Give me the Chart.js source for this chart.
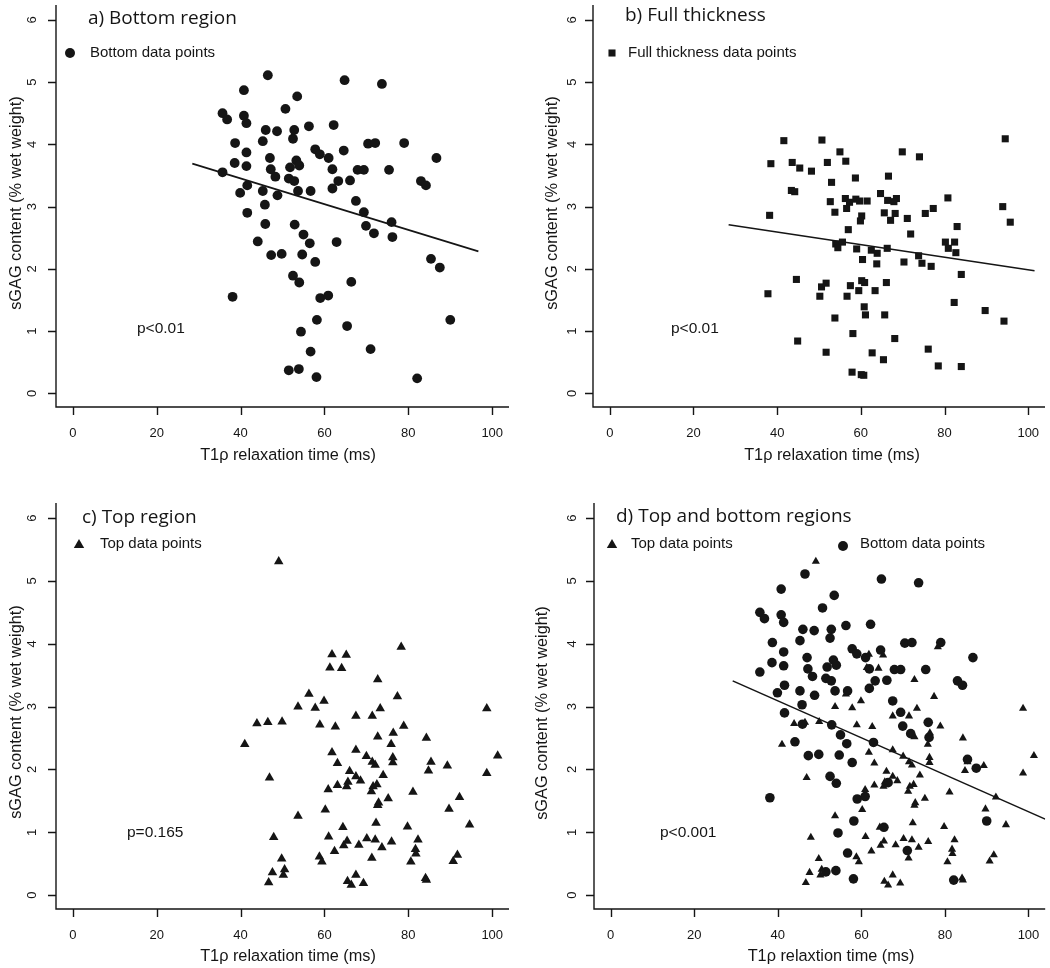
<!DOCTYPE html>
<html>
<head>
<meta charset="utf-8">
<script src="https://cdn.jsdelivr.net/npm/chart.js@4.4.1/dist/chart.umd.min.js"></script>
<style>
  html, body { margin: 0; padding: 0; background: #fff; }
  #wrap { position: relative; width: 1050px; height: 968px; overflow: hidden; }
  .panel { position: absolute; width: 525px; height: 484px; }
</style>
</head>
<body>
<div id="wrap">
  <div class="panel" style="left:0;top:0"><canvas id="chart-a" width="525" height="484"></canvas></div>
  <div class="panel" style="left:525px;top:0"><canvas id="chart-b" width="525" height="484"></canvas></div>
  <div class="panel" style="left:0;top:484px"><canvas id="chart-c" width="525" height="484"></canvas></div>
  <div class="panel" style="left:525px;top:484px"><canvas id="chart-d" width="525" height="484"></canvas></div>
</div>
<script>
// tick labels
const xTicks = [0, 20, 40, 60, 80, 100];
const yTicks = [0, 1, 2, 3, 4, 5, 6];

// bottom region (circles)
const bottomX = [46.5, 64.8, 73.7, 40.8, 53.5, 50.7, 35.7, 36.8, 40.8, 41.4, 62.2, 56.3, 46.0, 48.7, 52.8, 52.5, 45.3, 38.7, 70.4, 72.1,
  79.0, 57.8, 64.6, 58.9, 41.4, 61.0, 47.0, 86.7, 38.6, 53.3, 54.0, 41.4, 51.8, 47.2, 61.9, 67.9, 69.4, 75.4, 35.7, 48.3,
  51.5, 52.8, 63.3, 66.1, 83.0, 84.2, 41.6, 61.9, 39.9, 45.3, 53.7, 56.7, 48.8, 67.5, 45.8, 69.4, 41.6, 45.9, 52.9, 69.9,
  76.0, 55.0, 71.8, 76.2, 56.5, 44.1, 62.9, 49.8, 47.3, 54.7, 57.8, 85.4, 87.5, 52.5, 54.0, 66.4, 38.1, 59.0, 60.9, 58.2,
  65.4, 90.0, 54.4, 56.7, 71.0, 51.5, 53.9, 58.1, 82.1];
const bottomY = [5.11, 5.03, 4.97, 4.87, 4.77, 4.57, 4.50, 4.40, 4.46, 4.34, 4.31, 4.29, 4.23, 4.21, 4.23, 4.09, 4.05, 4.02, 4.01, 4.02,
  4.02, 3.92, 3.90, 3.84, 3.87, 3.78, 3.78, 3.78, 3.70, 3.74, 3.66, 3.65, 3.63, 3.60, 3.60, 3.59, 3.59, 3.59, 3.55, 3.48,
  3.45, 3.41, 3.41, 3.42, 3.41, 3.34, 3.34, 3.29, 3.22, 3.25, 3.25, 3.25, 3.18, 3.09, 3.03, 2.91, 2.90, 2.72, 2.71, 2.69,
  2.75, 2.55, 2.57, 2.51, 2.41, 2.44, 2.43, 2.24, 2.22, 2.23, 2.11, 2.16, 2.02, 1.89, 1.78, 1.79, 1.55, 1.53, 1.57, 1.18,
  1.08, 1.18, 0.99, 0.67, 0.71, 0.37, 0.39, 0.26, 0.24];

// full thickness (squares)
const fullX = [41.6, 50.7, 94.5, 55.0, 69.9, 74.0, 38.5, 43.6, 52.0, 56.4, 45.4, 48.2, 66.6, 58.7, 53.0, 43.4, 44.2, 64.7, 80.8, 52.7,
  56.3, 58.8, 59.7, 61.5, 57.3, 68.5, 66.4, 67.9, 77.3, 93.9, 38.2, 53.8, 56.6, 65.6, 68.2, 75.4, 60.2, 59.9, 67.1, 71.1,
  95.7, 83.0, 57.0, 71.9, 54.0, 55.6, 54.5, 59.0, 62.5, 63.9, 66.3, 80.2, 82.4, 80.9, 82.7, 73.8, 60.4, 63.8, 70.3, 74.6,
  76.8, 84.0, 44.6, 37.8, 50.6, 51.7, 50.2, 56.7, 57.5, 59.5, 60.2, 60.9, 63.4, 66.1, 60.8, 61.1, 65.7, 82.3, 89.7, 94.2,
  53.8, 58.1, 44.9, 68.1, 51.7, 62.7, 65.4, 76.1, 78.5, 84.0, 57.9, 60.1, 60.7];
const fullY = [4.06, 4.07, 4.09, 3.88, 3.88, 3.80, 3.69, 3.71, 3.71, 3.73, 3.62, 3.57, 3.49, 3.46, 3.39, 3.26, 3.24, 3.21, 3.14, 3.08,
  3.13, 3.12, 3.09, 3.09, 3.07, 3.13, 3.10, 3.08, 2.97, 3.00, 2.86, 2.91, 2.97, 2.90, 2.89, 2.89, 2.85, 2.77, 2.78, 2.81,
  2.75, 2.68, 2.63, 2.56, 2.40, 2.43, 2.34, 2.32, 2.30, 2.25, 2.33, 2.43, 2.43, 2.33, 2.26, 2.21, 2.15, 2.08, 2.11, 2.09,
  2.04, 1.91, 1.83, 1.60, 1.71, 1.77, 1.56, 1.56, 1.73, 1.65, 1.81, 1.78, 1.65, 1.78, 1.39, 1.26, 1.26, 1.46, 1.33, 1.16,
  1.21, 0.96, 0.84, 0.88, 0.66, 0.65, 0.54, 0.71, 0.44, 0.43, 0.34, 0.30, 0.29];

// top region (triangles)
const topX = [49.1, 78.3, 61.8, 65.2, 61.3, 64.1, 72.7, 56.3, 77.4, 59.9, 53.7, 57.8, 73.3, 98.7, 67.5, 71.4, 43.9, 46.5, 49.9, 58.9,
  62.6, 78.9, 76.4, 72.7, 84.3, 75.9, 41.0, 67.5, 61.8, 101.3, 70.0, 76.3, 71.4, 85.4, 63.1, 76.3, 72.1, 89.3, 84.8, 66.0,
  98.7, 74.0, 67.5, 46.9, 68.6, 65.6, 72.5, 63.1, 65.3, 71.6, 60.9, 71.2, 81.1, 75.2, 92.2, 72.9, 72.7, 60.2, 89.7, 53.7,
  72.3, 94.6, 79.8, 64.4, 47.9, 61.0, 70.1, 72.1, 65.4, 76.0, 82.3, 68.2, 64.6, 73.7, 62.4, 81.7, 81.8, 49.8, 58.8, 71.3,
  91.7, 59.4, 80.6, 90.7, 47.6, 50.5, 50.2, 46.7, 65.5, 66.4, 67.5, 69.3, 84.1, 84.3];
const topY = [5.31, 3.95, 3.83, 3.82, 3.62, 3.61, 3.43, 3.20, 3.16, 3.09, 3.00, 2.98, 2.97, 2.97, 2.85, 2.85, 2.73, 2.75, 2.76, 2.71,
  2.68, 2.69, 2.58, 2.52, 2.50, 2.40, 2.40, 2.31, 2.27, 2.22, 2.21, 2.19, 2.12, 2.12, 2.10, 2.11, 2.07, 2.06, 1.98, 1.97,
  1.94, 1.91, 1.89, 1.87, 1.82, 1.80, 1.76, 1.75, 1.73, 1.73, 1.68, 1.65, 1.64, 1.54, 1.56, 1.47, 1.43, 1.36, 1.37, 1.26,
  1.15, 1.12, 1.09, 1.08, 0.92, 0.93, 0.90, 0.88, 0.86, 0.85, 0.88, 0.80, 0.79, 0.76, 0.70, 0.73, 0.66, 0.58, 0.61, 0.59,
  0.64, 0.53, 0.53, 0.54, 0.36, 0.41, 0.32, 0.20, 0.22, 0.16, 0.32, 0.19, 0.27, 0.24];

// fitted lines (end points)
const fitBottomX = [28.5, 96.7];
const fitBottomY = [3.69, 2.28];
const fitFullX = [28.4, 101.5];
const fitFullY = [2.71, 1.97];
const fitBothX = [29.2, 104];
const fitBothY = [3.41, 1.21];

const INK = '#151515';
const SANS = '"Liberation Sans", Arial, Helvetica, sans-serif';
const TITLE_FONT = '19px "Open Sans", "Noto Sans", sans-serif';

const pts = (xs, ys) => xs.map((v, i) => ({ x: v, y: ys[i] }));

function marker(ctx, style, x, y, r) {
  ctx.beginPath();
  if (style === 'circle') {
    ctx.arc(x, y, r, 0, Math.PI * 2);
  } else if (style === 'rect') {
    const s = Math.SQRT1_2 * r;
    ctx.rect(x - s, y - s, 2 * s, 2 * s);
  } else {
    ctx.moveTo(x, y - r);
    ctx.lineTo(x + Math.sin(Math.PI * 2 / 3) * r, y + r / 2);
    ctx.lineTo(x - Math.sin(Math.PI * 2 / 3) * r, y + r / 2);
    ctx.closePath();
  }
  ctx.fill();
}

// R-style axes, labels and annotations drawn from the chart's scales
const rAxes = {
  id: 'rAxes',
  afterDraw(chart, args, o) {
    const { ctx, chartArea: a, scales: { x, y } } = chart;
    ctx.save();
    ctx.strokeStyle = INK;
    ctx.lineWidth = 1.4;
    ctx.beginPath();
    ctx.moveTo(a.left, a.top);
    ctx.lineTo(a.left, a.bottom);
    ctx.lineTo(a.right, a.bottom);
    xTicks.forEach(v => {
      const px = Math.round(x.getPixelForValue(v)) + 0.5;
      ctx.moveTo(px, a.bottom);
      ctx.lineTo(px, a.bottom + 8);
    });
    yTicks.forEach(v => {
      const py = Math.round(y.getPixelForValue(v)) + 0.5;
      ctx.moveTo(a.left, py);
      ctx.lineTo(a.left - 8, py);
    });
    ctx.stroke();

    ctx.fillStyle = INK;
    ctx.textAlign = 'center';
    ctx.textBaseline = 'middle';
    ctx.font = '13px ' + SANS;
    xTicks.forEach(v => ctx.fillText(String(v), x.getPixelForValue(v), o.xTickY));
    yTicks.forEach(v => {
      ctx.save();
      ctx.translate(o.yTickX, y.getPixelForValue(v));
      ctx.rotate(-Math.PI / 2);
      ctx.fillText(String(v), 0, 0);
      ctx.restore();
    });

    ctx.font = '16.3px ' + SANS;
    ctx.fillText(o.xTitle, o.xTitlePos[0], o.xTitlePos[1]);
    ctx.save();
    ctx.translate(o.yTitlePos[0], o.yTitlePos[1]);
    ctx.rotate(-Math.PI / 2);
    ctx.fillText('sGAG content (% wet weight)', 0, 0);
    ctx.restore();

    ctx.textAlign = 'left';
    ctx.font = TITLE_FONT;
    ctx.fillText(o.title, o.titlePos[0], o.titlePos[1]);

    ctx.font = '15.5px ' + SANS;
    ctx.fillText(o.pText, o.pPos[0], o.pPos[1]);

    ctx.font = '15px ' + SANS;
    o.legend.forEach(l => {
      marker(ctx, l.style, l.mx, l.my, l.r);
      ctx.fillText(l.text, l.tx, l.ty);
    });
    ctx.restore();
  }
};

function scatterSet(data, style, r) {
  return {
    data, pointStyle: style, pointRadius: r, pointHoverRadius: r,
    backgroundColor: INK, borderWidth: 0, showLine: false
  };
}
function fitSet(xs, ys) {
  return {
    data: pts(xs, ys), showLine: true, borderColor: INK, borderWidth: 1.6,
    pointRadius: 0, fill: false
  };
}

function makeChart(id, datasets, pad, deco) {
  new Chart(document.getElementById(id), {
    type: 'scatter',
    data: { datasets },
    options: {
      responsive: false,
      animation: false,
      layout: { padding: pad },
      scales: {
        x: { type: 'linear', display: false, min: -4, max: 104 },
        y: { type: 'linear', display: false, min: -0.22, max: 6.24 }
      },
      plugins: { legend: { display: false }, tooltip: { enabled: false }, rAxes: deco }
    },
    plugins: [rAxes]
  });
}

makeChart('chart-a', [
  scatterSet(pts(bottomX, bottomY), 'circle', 4.9),
  fitSet(fitBottomX, fitBottomY)
], { left: 56, right: 16, top: 1, bottom: 77 }, {
  title: 'a) Bottom region', titlePos: [88, 19],
  xTitle: 'T1\u03c1 relaxation time (ms)', xTitlePos: [288, 456],
  yTitlePos: [17, 203], yTickX: 32, xTickY: 433,
  pText: 'p<0.01', pPos: [137, 329],
  legend: [{ style: 'circle', mx: 70, my: 53, r: 5, text: 'Bottom data points', tx: 90, ty: 53 }]
});

makeChart('chart-b', [
  scatterSet(pts(fullX, fullY), 'rect', 5),
  fitSet(fitFullX, fitFullY)
], { left: 68, right: 4, top: 1, bottom: 77 }, {
  title: 'b) Full thickness', titlePos: [100, 16],
  xTitle: 'T1\u03c1 relaxation time (ms)', xTitlePos: [307, 456],
  yTitlePos: [28, 203], yTickX: 47, xTickY: 433,
  pText: 'p<0.01', pPos: [146, 329],
  legend: [{ style: 'rect', mx: 87, my: 53, r: 5, text: 'Full thickness data points', tx: 103, ty: 53 }]
});

makeChart('chart-c', [
  scatterSet(pts(topX, topY), 'triangle', 5.5)
], { left: 56, right: 16, top: 19, bottom: 59 }, {
  title: 'c) Top region', titlePos: [82, 34],
  xTitle: 'T1\u03c1 relaxation time (ms)', xTitlePos: [288, 473],
  yTitlePos: [17, 228], yTickX: 32, xTickY: 451,
  pText: 'p=0.165', pPos: [127, 349],
  legend: [{ style: 'triangle', mx: 79, my: 61, r: 6, text: 'Top data points', tx: 100, ty: 60 }]
});

makeChart('chart-d', [
  scatterSet(pts(topX, topY), 'triangle', 4.7),
  scatterSet(pts(bottomX, bottomY), 'circle', 4.8),
  fitSet(fitBothX, fitBothY)
], { left: 69, right: 3, top: 19, bottom: 59 }, {
  title: 'd) Top and bottom regions', titlePos: [91, 33],
  xTitle: 'T1\u03c1 relaxtion time (ms)', xTitlePos: [306, 473],
  yTitlePos: [18, 229], yTickX: 47, xTickY: 451,
  pText: 'p<0.001', pPos: [135, 349],
  legend: [
    { style: 'triangle', mx: 87, my: 61, r: 6, text: 'Top data points', tx: 106, ty: 60 },
    { style: 'circle', mx: 318, my: 62, r: 5, text: 'Bottom data points', tx: 335, ty: 60 }
  ]
});
</script>
</body>
</html>
